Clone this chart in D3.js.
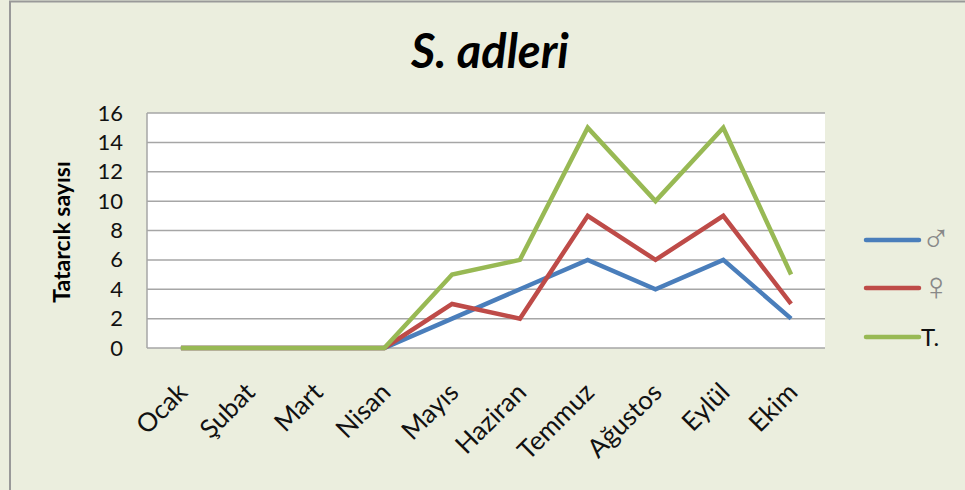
<!DOCTYPE html>
<html><head><meta charset="utf-8">
<script src="https://cdn.jsdelivr.net/npm/d3@7"></script>
<style>
html,body{margin:0;padding:0;background:#ebeede;}
svg{display:block;}
text{font-family:Lato,"Open Sans",sans-serif;}
</style></head>
<body>
<svg id="chart" width="965" height="490"></svg>
<script>
const months = ["Ocak","Şubat","Mart","Nisan","Mayıs","Haziran","Temmuz","Ağustos","Eylül","Ekim"];
const male = [0,0,0,0,2,4,6,4,6,2];
const female = [0,0,0,0,3,2,9,6,9,3];
const total = [0,0,0,0,5,6,15,10,15,5];
const seriesNames = ["♂","♀","T."];
const seriesColors = ["#4a7ebb","#be4b48","#98b954"];
const yTicks = [0,2,4,6,8,10,12,14,16];
const title = "S. adleri";
const yTitle = "Tatarcık sayısı";

const svg = d3.select("#chart");
svg.append("rect").attr("x",0).attr("y",0).attr("width",965).attr("height",490).attr("fill","#ebeede");
svg.append("line").attr("x1",10).attr("x2",10).attr("y1",1).attr("y2",490).attr("stroke","#999").attr("stroke-width",2);
svg.append("line").attr("x1",9).attr("x2",965).attr("y1",1.5).attr("y2",1.5).attr("stroke","#999").attr("stroke-width",2);

const L=147, R=825, T=113, B=348;
const x = d3.scaleBand().domain(months).range([L,R]);
const y = d3.scaleLinear().domain([0,16]).range([B,T]);

svg.append("rect").attr("x",L).attr("y",T).attr("width",R-L).attr("height",B-T).attr("fill","#fff");

// gridlines
svg.append("g").selectAll("line").data(yTicks).join("line")
  .attr("x1",L).attr("x2",R).attr("y1",d=>y(d)).attr("y2",d=>y(d))
  .attr("stroke","#a6a6a6").attr("stroke-width",1.5);
svg.append("line").attr("x1",L).attr("x2",L).attr("y1",T).attr("y2",B).attr("stroke","#a6a6a6").attr("stroke-width",1.5);

// y axis labels
const yAxis = d3.axisLeft(y).tickValues(yTicks).tickSize(0).tickPadding(0);
const gy = svg.append("g").attr("transform",`translate(${L-24},0)`).call(yAxis);
gy.select(".domain").remove();
gy.selectAll("text").attr("font-size",22).attr("fill","#111").attr("font-family","Lato,'Open Sans',sans-serif");

// x axis labels
const gx = svg.append("g").attr("transform",`translate(0,${B})`)
  .call(d3.axisBottom(x).tickSize(0).tickPadding(0));
gx.select(".domain").remove();
gx.selectAll(".tick text")
  .attr("font-size",26).attr("fill","#111").attr("font-family","Lato,'Open Sans',sans-serif")
  .attr("text-anchor","end").attr("dy",0)
  .attr("transform","translate(8,46) rotate(-45)");

// lines
const line = d3.line().x((d,i)=>x(months[i])+x.bandwidth()/2).y(d=>y(d));
[male,female,total].forEach((s,k)=>{
  svg.append("path").datum(s).attr("d",line).attr("fill","none")
    .attr("stroke",seriesColors[k]).attr("stroke-width",4.5).attr("stroke-linejoin","miter");
});

// title
svg.append("text").attr("x",490).attr("y",68).attr("text-anchor","middle")
  .attr("font-size",47).attr("font-weight","bold").attr("font-style","italic").attr("fill","#000").text(title);

// y title
svg.append("text").attr("transform","translate(70,232) rotate(-90)").attr("text-anchor","middle")
  .attr("font-size",23).attr("font-weight","bold").attr("fill","#000").text(yTitle);

// legend
const ly = [240,288,337];
seriesNames.forEach((n,k)=>{
  svg.append("line").attr("x1",866).attr("x2",919).attr("y1",ly[k]).attr("y2",ly[k])
    .attr("stroke",seriesColors[k]).attr("stroke-width",4.5).attr("stroke-linecap","round");
  svg.append("text").attr("x",921).attr("y",ly[k]+(k<2?12:9))
    .attr("font-size",k<2?40:24).attr("fill",k<2?"#888":"#111")
    .attr("font-family",k<2?"'DejaVu Sans',sans-serif":"Lato,sans-serif").text(n);
});
</script>
</body></html>
